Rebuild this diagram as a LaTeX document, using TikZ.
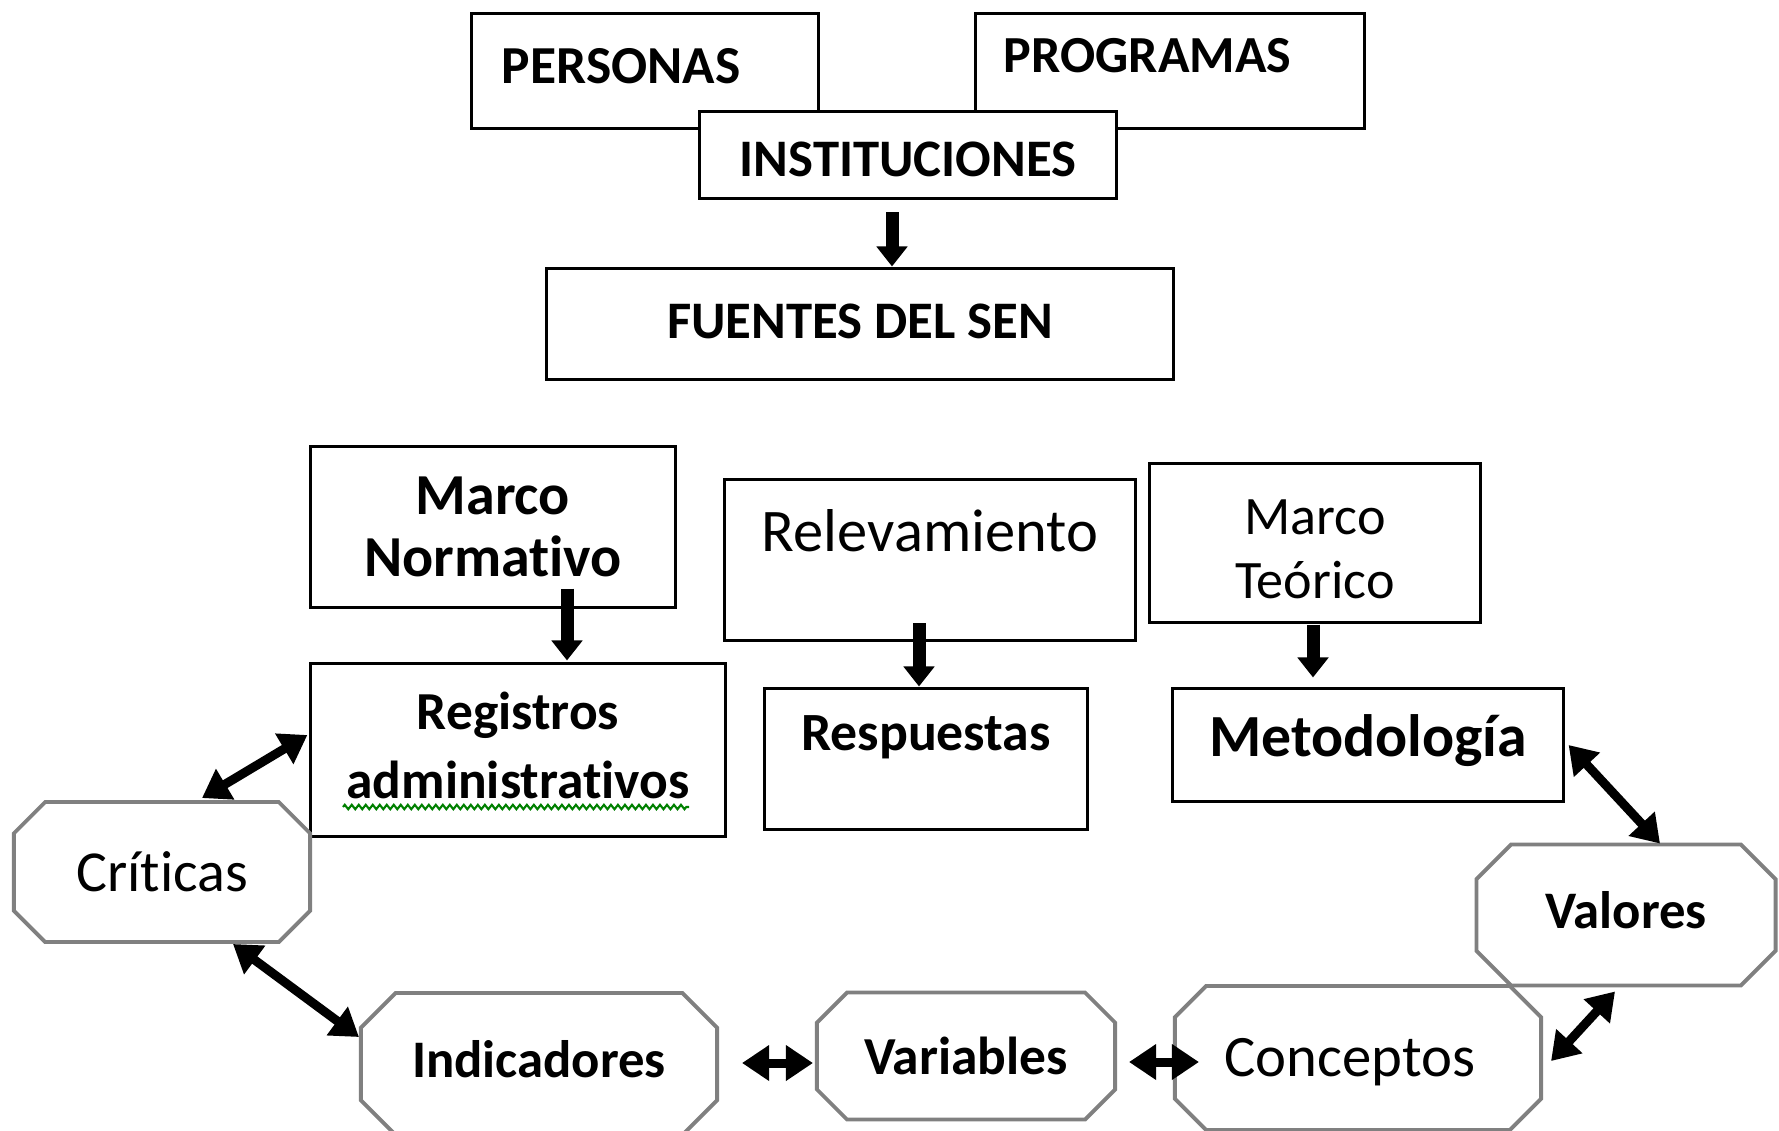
\documentclass[tikz,border=0pt]{standalone}
\usepackage{fontspec}
\setmainfont{Carlito}[Ligatures=CommonOff]
\usetikzlibrary{arrows.meta}
\usetikzlibrary{shapes.misc}
\usetikzlibrary{calc}
\usetikzlibrary{decorations.pathmorphing}

\tikzset{
  box/.style={draw, line width=0.85pt, fill=white, inner sep=0pt, align=center},
  octa/.style={chamfered rectangle, chamfered rectangle angle=45,
    chamfered rectangle xsep=0.4cm, draw=gray, line width=1.1pt,
    fill=white, inner sep=0pt},
  downarrow/.style={line width=0.13cm, -{Triangle[length=0.2cm,width=0.3cm]}},
  dblarrow/.style={line width=0.09cm,
    {Triangle[length=0.27cm,width=0.34cm]}-{Triangle[length=0.27cm,width=0.34cm]}}
}

\begin{document}
\begin{tikzpicture}[x=0.01cm, y=-0.01cm]
  \clip (0,0) rectangle (1779,1130);
  \fill[white] (0,0) rectangle (1779,1130);

  % Sources
  \node[box, align=left, text width=2.86cm, inner xsep=0.3cm, minimum height=1.14cm,
        text height=0.34cm, text depth=0.1cm, font=\bfseries\fontsize{15.2}{18}\selectfont]
        (personas) at (645,71) {PERSONAS};
  \node[box, align=left, text width=3.32cm, inner xsep=0.28cm, minimum height=1.14cm,
        text height=0.34cm, text depth=0.32cm, font=\bfseries\fontsize{14.8}{18}\selectfont]
        (programas) at (1170,71) {PROGRAMAS};
  \node[box, minimum width=4.16cm, minimum height=0.87cm, text height=0.42cm, text depth=0cm,
        font=\bfseries\fontsize{15}{18}\selectfont]
        (instituciones) at (908,155) {INSTITUCIONES};
  \node[box, minimum width=6.27cm, minimum height=1.10cm, text height=0.34cm, text depth=0.06cm,
        font=\bfseries\fontsize{15}{18}\selectfont]
        (fuentes) at (860,324) {FUENTES DEL SEN};

  % Frameworks
  \node[box, minimum width=3.64cm, minimum height=1.60cm,
        font=\bfseries\fontsize{16.5}{17.6}\selectfont]
        (marconorm) at (493,527) {Marco\\Normativo};
  \node[box, minimum width=4.11cm, minimum height=1.61cm, text height=0.38cm, text depth=0.56cm,
        font=\fontsize{17.2}{20}\selectfont]
        (relevamiento) at (930,560) {Relevamiento};
  \node[box, minimum width=3.30cm, minimum height=1.58cm,
        font=\fontsize{15.4}{18.2}\selectfont]
        (marcoteo) at (1315,543) {\rule{0pt}{0.48cm}Marco\\Teórico};

  \node[box, minimum width=4.14cm, minimum height=1.72cm,
        font=\bfseries\fontsize{15.2}{19.6}\selectfont]
        (registros) at (518,750) {Registros\\administrativos\rule[-0.1cm]{0pt}{0.1cm}};
  \node[box, minimum width=3.23cm, minimum height=1.40cm, text height=0.35cm, text depth=0.52cm,
        font=\bfseries\fontsize{15.3}{18}\selectfont]
        (respuestas) at (926,759) {Respuestas};
  \node[box, minimum width=3.90cm, minimum height=1.12cm, text height=0.39cm, text depth=0.16cm,
        font=\bfseries\fontsize{17}{20}\selectfont]
        (metodologia) at (1368,745) {Metodología};

  % spell-check underline
  \draw[green!50!black, line width=0.6pt, decorate,
        decoration={zigzag, segment length=0.07cm, amplitude=0.022cm}]
        ($(registros.center)+(-175,57)$) -- ($(registros.center)+(171,57)$);

  % Cycle
  \node[octa, minimum width=2.96cm, minimum height=1.40cm, font=\fontsize{16.5}{20}\selectfont]
        (criticas) at (162,872) {Críticas};
  \node[octa, minimum width=3.56cm, minimum height=1.42cm, text depth=0.1cm,
        font=\bfseries\fontsize{15}{18}\selectfont]
        (indicadores) at (539,1064) {Indicadores};
  \node[octa, minimum width=2.98cm, minimum height=1.27cm, font=\bfseries\fontsize{15.2}{18}\selectfont]
        (variables) at (966,1056) {Variables};
  \node[octa, minimum width=3.66cm, minimum height=1.44cm, text depth=0.02cm,
        font=\fontsize{16.7}{20}\selectfont]
        (conceptos) at (1358,1058) {\hspace*{-0.16cm}Conceptos};
  \node[octa, minimum width=2.99cm, minimum height=1.41cm, text depth=0.1cm,
        font=\bfseries\fontsize{15}{18}\selectfont]
        (valores) at (1626,915) {Valores};

  % Down arrows
  \draw[downarrow] ($(instituciones.south)+(-16,12)$) -- ($(fuentes.north)+(32,-1)$);
  \draw[downarrow] ($(marconorm.south)+(74,-20)$) -- ($(registros.north)+(49,-2)$);
  \draw[downarrow] ($(relevamiento.south)+(-11,-19)$) -- ($(respuestas.north)+(-7,-1)$);
  \draw[downarrow] ($(marcoteo.south)+(-2,1)$) -- ($(metodologia.north)+(-55,-10)$);

  % Two-way arrows
  \draw[dblarrow] ($(criticas.north)+(40,-2)$) -- ($(registros.west)+(-2,-15)$);
  \draw[dblarrow] ($(criticas.south)+(71,0)$) -- ($(indicadores.west)+(0,-27)$);
  \draw[dblarrow] ($(indicadores.east)+(23,-1)$) -- ($(variables.west)+(-2,7)$);
  \draw[dblarrow] ($(variables.east)+(12,6)$) -- ($(conceptos.west)+(26,4)$);
  \draw[dblarrow] ($(conceptos.east)+(8,3)$) -- ($(valores.south)+(-11,4)$);
  \draw[dblarrow] ($(metodologia.east)+(4,0)$) -- ($(valores.north)+(34,1)$);
\end{tikzpicture}
\end{document}
